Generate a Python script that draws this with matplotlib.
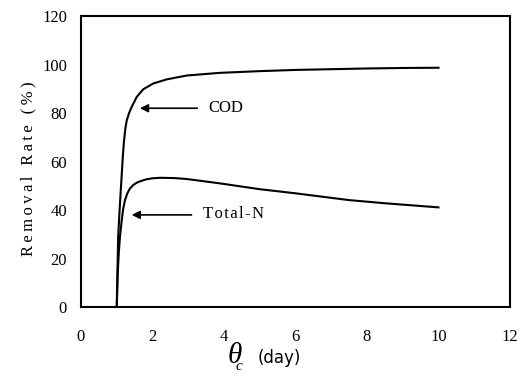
import numpy as np
import matplotlib
matplotlib.use("Agg")
import matplotlib.pyplot as plt

# sludge age theta_c (day) vs removal rate (%)
cod_x = [1.0, 1.02, 1.04, 1.08, 1.12, 1.17, 1.2, 1.24, 1.28, 1.35, 1.42, 1.56, 1.74, 2.02, 2.4, 2.96, 3.89, 5.0, 6.0, 7.0, 8.0, 9.0, 10.0]
cod_y = [0.0, 15.0, 29.0, 40.0, 50.0, 62.0, 68.0, 73.5, 77.0, 80.2, 82.6, 86.7, 89.8, 92.2, 93.9, 95.5, 96.6, 97.3, 97.8, 98.1, 98.4, 98.6, 98.7]

tn_x = [1.0, 1.03, 1.06, 1.09, 1.14, 1.18, 1.23, 1.3, 1.37, 1.46, 1.56, 1.7, 1.84, 2.0, 2.21, 2.6, 2.96, 3.89, 5.0, 6.0, 7.5, 8.5, 10.0]
tn_y = [0.0, 15.0, 23.0, 29.0, 35.9, 40.5, 44.1, 47.0, 48.9, 50.3, 51.3, 52.1, 52.7, 53.1, 53.3, 53.2, 52.8, 51.0, 48.6, 46.9, 44.1, 42.8, 41.1]

xticks = [0, 2, 4, 6, 8, 10, 12]
yticks = [0, 20, 40, 60, 80, 100, 120]

SERIF = ["Liberation Serif", "DejaVu Serif"]
THIN = "\u2009"

fig = plt.figure(figsize=(5.27, 3.91), dpi=100)
ax = fig.add_axes([0.1537, 0.2148, 0.814, 0.744])

ax.plot(cod_x, cod_y, color="black", lw=1.5)
ax.plot(tn_x, tn_y, color="black", lw=1.5)

ax.set_xlim(0, 12)
ax.set_ylim(0, 120)
ax.set_xticks(xticks)
ax.set_yticks(yticks)
for s in ax.spines.values():
    s.set_linewidth(1.5)
ax.tick_params(length=0, labelsize=12)
ax.tick_params(axis="x", pad=16)
ax.tick_params(axis="y", pad=10)
for lab in ax.get_xticklabels() + ax.get_yticklabels():
    lab.set_fontfamily("Liberation Serif")

# y label, letters spread out like the original
ylab = THIN.join("Removal Rate (%)")
fig.text(28 / 527, 1 - 169 / 391, ylab, rotation=90, ha="center", va="center",
         fontsize=12, family=SERIF)

# arrows with labels
arrow = dict(arrowstyle="-|>", color="black", lw=1.2, mutation_scale=12)
ax.annotate("", xy=(1.57, 82), xytext=(3.33, 82), arrowprops=arrow)
ax.text(3.55, 82, "COD", va="center", ha="left", fontsize=12, family=SERIF)
ax.annotate("", xy=(1.34, 38), xytext=(3.17, 38), arrowprops=arrow)
ax.text(3.41, 38.3, "\u200a".join("Total-N"), va="center", ha="left", fontsize=12, family=SERIF)

# x label: theta with a small c tucked under it, then (day)
fig.text(228 / 527, 1 - 363 / 391, "\u03b8", fontsize=21, style="italic",
         family=SERIF, ha="left", va="baseline")
fig.text(236 / 527, 1 - 370 / 391, "c", fontsize=11, style="italic",
         family=SERIF, ha="left", va="baseline")
fig.text(258 / 527, 1 - 363 / 391, "(day)", fontsize=12, ha="left", va="baseline")

fig.savefig("out.png", dpi=100)
